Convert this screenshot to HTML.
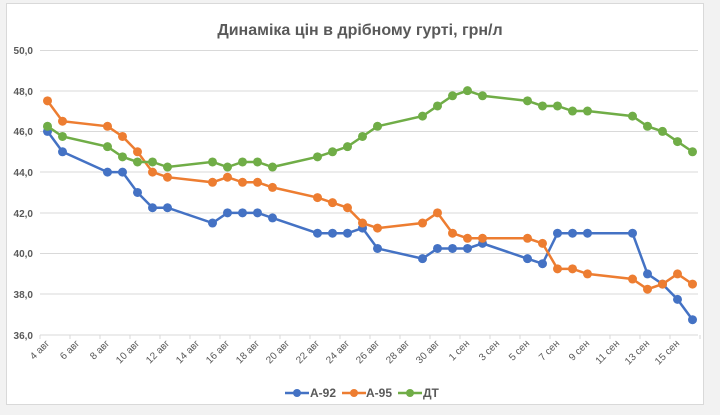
<!DOCTYPE html>
<html><head><meta charset="utf-8"><style>
body{margin:0;background:#f2f2f2;}
svg{display:block;font-family:"Liberation Sans",sans-serif;}
</style></head><body>
<svg width="720" height="415" viewBox="0 0 720 415">
<rect x="0" y="0" width="720" height="415" fill="#f2f2f2"/>
<rect x="6.5" y="3.5" width="697" height="401" fill="#fff" stroke="#d9d9d9"/>
<text x="360" y="35" text-anchor="middle" font-size="16" font-weight="bold" fill="#595959">Динаміка цін в дрібному гурті, грн/л</text>
<g stroke="#d9d9d9" stroke-width="1">
<line x1="40" x2="698" y1="50.5" y2="50.5"/><line x1="40" x2="698" y1="91" y2="91"/>
<line x1="40" x2="698" y1="131.5" y2="131.5"/><line x1="40" x2="698" y1="172" y2="172"/>
<line x1="40" x2="698" y1="213" y2="213"/><line x1="40" x2="698" y1="253.5" y2="253.5"/>
<line x1="40" x2="698" y1="294" y2="294"/><line x1="40" x2="698" y1="335" y2="335"/>
</g>
<g id="ticks" stroke="#d9d9d9"></g>
<g font-size="10" font-weight="bold" fill="#595959" text-anchor="end">
<text x="33" y="54">50,0</text><text x="33" y="95">48,0</text><text x="33" y="135">46,0</text>
<text x="33" y="176">44,0</text><text x="33" y="217">42,0</text><text x="33" y="257">40,0</text>
<text x="33" y="298">38,0</text><text x="33" y="339">36,0</text>
</g>
<g font-size="10" fill="#595959" text-anchor="end">
<text transform="translate(50,344) rotate(-45)">4 авг</text>
<text transform="translate(80,344) rotate(-45)">6 авг</text>
<text transform="translate(110,344) rotate(-45)">8 авг</text>
<text transform="translate(140,344) rotate(-45)">10 авг</text>
<text transform="translate(170,344) rotate(-45)">12 авг</text>
<text transform="translate(200,344) rotate(-45)">14 авг</text>
<text transform="translate(230,344) rotate(-45)">16 авг</text>
<text transform="translate(260,344) rotate(-45)">18 авг</text>
<text transform="translate(290,344) rotate(-45)">20 авг</text>
<text transform="translate(320,344) rotate(-45)">22 авг</text>
<text transform="translate(350,344) rotate(-45)">24 авг</text>
<text transform="translate(380,344) rotate(-45)">26 авг</text>
<text transform="translate(410,344) rotate(-45)">28 авг</text>
<text transform="translate(440,344) rotate(-45)">30 авг</text>
<text transform="translate(470,344) rotate(-45)">1 сен</text>
<text transform="translate(500,344) rotate(-45)">3 сен</text>
<text transform="translate(530,344) rotate(-45)">5 сен</text>
<text transform="translate(560,344) rotate(-45)">7 сен</text>
<text transform="translate(590,344) rotate(-45)">9 сен</text>
<text transform="translate(620,344) rotate(-45)">11 сен</text>
<text transform="translate(650,344) rotate(-45)">13 сен</text>
<text transform="translate(680,344) rotate(-45)">15 сен</text>
</g>
<g id="series"></g>
<g font-size="12" font-weight="bold" fill="#595959">
<line x1="285" x2="309" y1="393" y2="393" stroke="#4472C4" stroke-width="2.5"/><circle cx="297" cy="393" r="4" fill="#4472C4"/>
<text x="310" y="397">А-92</text>
<line x1="342" x2="366" y1="393" y2="393" stroke="#ED7D31" stroke-width="2.5"/><circle cx="354" cy="393" r="4" fill="#ED7D31"/>
<text x="366" y="397">А-95</text>
<line x1="398" x2="422" y1="393" y2="393" stroke="#70AD47" stroke-width="2.5"/><circle cx="410" cy="393" r="4" fill="#70AD47"/>
<text x="423" y="397">ДТ</text>
</g>
</svg>
<script>
var ns="http://www.w3.org/2000/svg";
var t=document.getElementById("ticks");
for(var i=0;i<=22;i++){var l=document.createElementNS(ns,"line");var x=40+30*i;l.setAttribute("x1",x);l.setAttribute("x2",x);l.setAttribute("y1",335);l.setAttribute("y2",339);t.appendChild(l);}
var d=[0,1,4,5,6,7,8,11,12,13,14,15,18,19,20,21,22,25,26,27,28,29,32,33,34,35,36,39,40,41,42,43];
var S=[["#4472C4",[46,45,44,44,43,42.25,42.25,41.5,42,42,42,41.75,41,41,41,41.25,40.25,39.75,40.25,40.25,40.25,40.5,39.75,39.5,41,41,41,41,39,38.5,37.75,36.75]],
["#ED7D31",[47.5,46.5,46.25,45.75,45,44,43.75,43.5,43.75,43.5,43.5,43.25,42.75,42.5,42.25,41.5,41.25,41.5,42,41,40.75,40.75,40.75,40.5,39.25,39.25,39,38.75,38.25,38.5,39,38.5]],
["#70AD47",[46.25,45.75,45.25,44.75,44.5,44.5,44.25,44.5,44.25,44.5,44.5,44.25,44.75,45,45.25,45.75,46.25,46.75,47.25,47.75,48,47.75,47.5,47.25,47.25,47,47,46.75,46.25,46,45.5,45]]];
var g=document.getElementById("series");
S.forEach(function(s){var pts=[];s[1].forEach(function(v,i){pts.push((47.5+15*d[i])+","+(335-(v-36)*20.36));});
var p=document.createElementNS(ns,"polyline");p.setAttribute("points",pts.join(" "));p.setAttribute("fill","none");p.setAttribute("stroke",s[0]);p.setAttribute("stroke-width","2.5");g.appendChild(p);
pts.forEach(function(q){var c=document.createElementNS(ns,"circle");var a=q.split(",");c.setAttribute("cx",a[0]);c.setAttribute("cy",a[1]);c.setAttribute("r","4.5");c.setAttribute("fill",s[0]);g.appendChild(c);});});
</script>
</body></html>
